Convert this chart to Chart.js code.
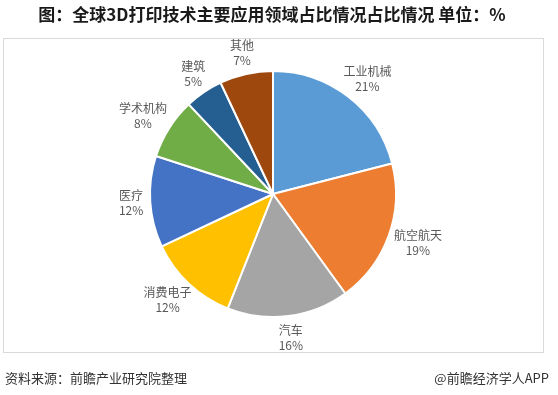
<!DOCTYPE html>
<html>
<head>
<meta charset="utf-8">
<script src="https://cdn.jsdelivr.net/npm/chart.js@4.4.1/dist/chart.umd.min.js"></script>
<style>
  html, body { margin: 0; padding: 0; background: #fff; }
  canvas { display: block; }
</style>
</head>
<body>
<canvas id="myCanvas" width="558" height="395"></canvas>
<script>
// data for the pie
let categories = ['工业机械', '航空航天', '汽车', '消费电子', '医疗', '学术机构', '建筑', '其他'];
let shares = [21, 19, 16, 12, 12, 8, 5, 7];
let sliceColors = ['#5B9BD5', '#ED7D31', '#A5A5A5', '#FFC000', '#4472C4', '#70AD47', '#255E91', '#9E480E'];

let titleText = '图：全球3D打印技术主要应用领域占比情况占比情况 单位：%';
let sourceText = '资料来源：前瞻产业研究院整理';
let brandText = '@前瞻经济学人APP';

const cjk = '"Noto Sans CJK SC", "Microsoft YaHei", sans-serif';

// frame, title and footer
let framePlugin = {
    id: 'frame',
    beforeDraw(chart) {
        let ctx = chart.ctx;
        ctx.save();
        ctx.fillStyle = '#fff';
        ctx.fillRect(0, 0, chart.width, chart.height);
        ctx.strokeStyle = '#d9d9d9';
        ctx.lineWidth = 1;
        ctx.strokeRect(3.5, 38.5, 540, 314);

        ctx.fillStyle = '#1a1a1a';
        ctx.font = 'bold 17px ' + cjk;
        ctx.textAlign = 'center';
        ctx.textBaseline = 'middle';
        ctx.fillText(titleText, 272, 15);

        ctx.font = '13px ' + cjk;
        ctx.fillStyle = '#333';
        ctx.textAlign = 'left';
        ctx.fillText(sourceText, 5, 378);
        ctx.textAlign = 'right';
        ctx.fillText(brandText, 549, 378);
        ctx.restore();
    }
};

// outside labels: name + percent
let labelPlugin = {
    id: 'outLabels',
    afterDatasetsDraw(chart) {
        let ctx = chart.ctx;
        let meta = chart.getDatasetMeta(0);
        ctx.save();
        ctx.font = '12px ' + cjk;
        ctx.fillStyle = '#595959';
        ctx.textAlign = 'center';
        ctx.textBaseline = 'middle';
        meta.data.forEach(function(arc, i) {
            let p = arc.getProps(['x', 'y', 'startAngle', 'endAngle', 'outerRadius'], true);
            let mid = (p.startAngle + p.endAngle) / 2;
            let ux = Math.cos(mid), uy = Math.sin(mid);
            let name = categories[i];
            let pct = shares[i] + '%';
            let w = Math.max(ctx.measureText(name).width, ctx.measureText(pct).width);
            let h = 30;
            let d = p.outerRadius + 7;
            let cx = p.x + d * ux + ux * w / 2;
            let cy = p.y + d * uy + uy * h / 2;
            ctx.fillText(name, cx, cy - 7.5);
            ctx.fillText(pct, cx, cy + 7.5);
        });
        ctx.restore();
    }
};

let chrt = document.getElementById('myCanvas');
let myPieChart = new Chart(chrt, {
    type: 'pie',
    data: {
        labels: categories,
        datasets: [{
            data: shares,
            backgroundColor: sliceColors,
            borderColor: '#ffffff',
            borderWidth: 2
        }]
    },
    options: {
        responsive: false,
        animation: false,
        layout: { padding: { top: 70, bottom: 77, left: 0, right: 12 } },
        plugins: {
            legend: { display: false },
            tooltip: { enabled: false }
        }
    },
    plugins: [framePlugin, labelPlugin]
});
</script>
</body>
</html>
